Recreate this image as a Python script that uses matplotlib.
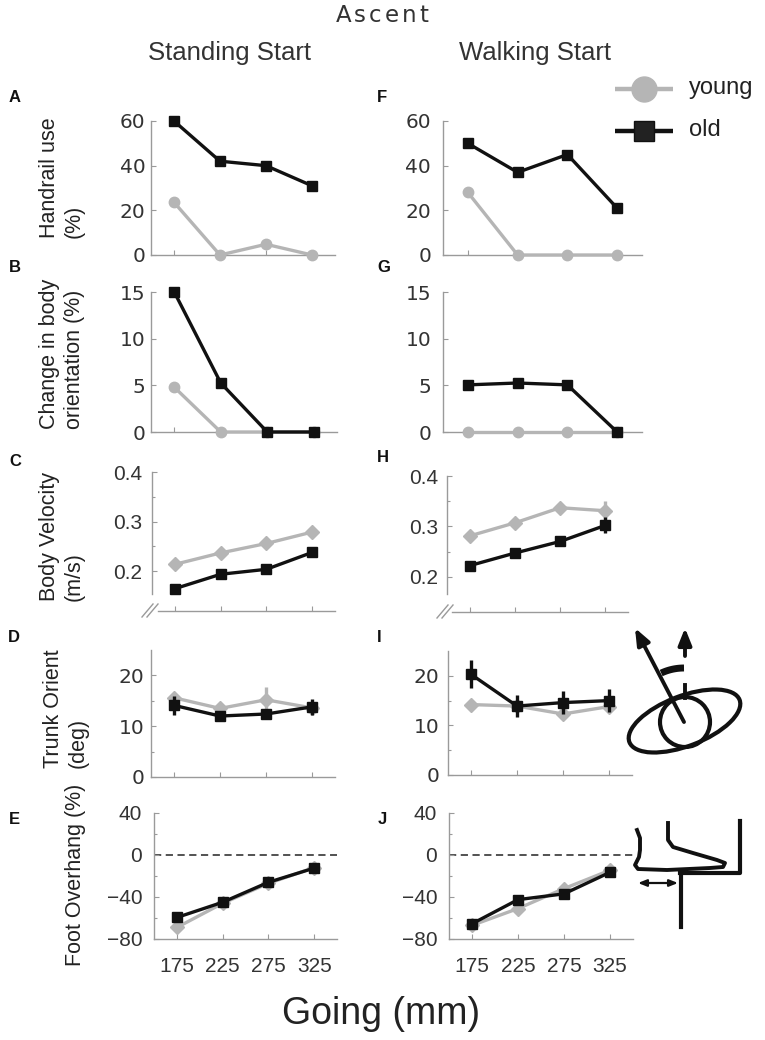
import numpy as np
import matplotlib
matplotlib.use("Agg")
import matplotlib.pyplot as plt
from matplotlib.patches import Ellipse, Circle
from matplotlib.ticker import FixedLocator

# ---- data ----
going = [175, 225, 275, 325]
group_names = ["young", "old"]

handrail_stand_young = [23.6, 0, 4.8, 0]
handrail_stand_old = [60, 42, 40, 31]
handrail_walk_young = [28, 0, 0, 0]
handrail_walk_old = [50, 37, 45, 21]

orient_stand_young = [4.8, 0, 0, 0]
orient_stand_old = [15, 5.25, 0, 0]
orient_walk_young = [0, 0, 0, 0]
orient_walk_old = [5.05, 5.25, 5.05, 0]

vel_stand_young = [0.214, 0.237, 0.256, 0.279]
vel_stand_young_err = [0.004, 0.005, 0.005, 0.006]
vel_stand_old = [0.165, 0.194, 0.204, 0.238]
vel_stand_old_err = [0.004, 0.005, 0.006, 0.006]
vel_walk_young = [0.281, 0.307, 0.337, 0.331]
vel_walk_young_err = [0.006, 0.008, 0.010, 0.020]
vel_walk_old = [0.222, 0.247, 0.270, 0.302]
vel_walk_old_err = [0.005, 0.010, 0.008, 0.016]

trunk_stand_young = [15.6, 13.5, 15.2, 13.6]
trunk_stand_young_err = [1.0, 0.8, 2.6, 0.8]
trunk_stand_old = [14.1, 12.0, 12.4, 13.8]
trunk_stand_old_err = [1.8, 1.0, 1.0, 1.5]
trunk_walk_young = [14.2, 13.9, 12.3, 13.8]
trunk_walk_young_err = [1.0, 1.0, 1.0, 1.0]
trunk_walk_old = [20.3, 13.9, 14.6, 15.0]
trunk_walk_old_err = [2.8, 2.3, 2.3, 2.3]

overhang_stand_young = [-69, -46, -27, -12]
overhang_stand_young_err = [2, 2, 2, 2]
overhang_stand_old = [-59.5, -45, -26, -12.5]
overhang_stand_old_err = [2.5, 2, 2, 3.5]
overhang_walk_young = [-67, -51, -32, -14.5]
overhang_walk_young_err = [2, 3, 3, 3]
overhang_walk_old = [-65.5, -42.5, -37, -16.5]
overhang_walk_old_err = [2.5, 2.5, 3, 3]

GRAY = "#b5b5b5"
BLACK = "#111111"
SPINE = "#9a9a9a"
TXT = "#333333"
W, H = 765, 1040

fig = plt.figure(figsize=(W / 100, H / 100), dpi=100)

# overlay in pixel coordinates for annotations / icons
ov = fig.add_axes([0, 0, 1, 1])
ov.set_xlim(0, W)
ov.set_ylim(H, 0)
ov.axis("off")
ov.patch.set_alpha(0)


def add_panel(left, right, top, bottom, ylim):
    ax = fig.add_axes([left / W, 1 - bottom / H, (right - left) / W, (bottom - top) / H])
    ax.set_xlim(150, 350)
    ax.set_ylim(*ylim)
    ax.patch.set_alpha(0)
    for s in ["top", "right"]:
        ax.spines[s].set_visible(False)
    for s in ["left", "bottom"]:
        ax.spines[s].set_color(SPINE)
        ax.spines[s].set_linewidth(1.0)
    ax.set_xticks(going)
    ax.tick_params(direction="in", length=3.5, width=0.8, color=SPINE,
                   labelcolor=TXT)
    ax.tick_params(which="minor", direction="in", length=2.5, width=0.8, color=SPINE)
    return ax


def draw_pct(ax, young, old):
    ax.plot(going, young, color=GRAY, lw=2.4, marker="o", ms=7.5, clip_on=False, zorder=3)
    ax.plot(going, old, color=BLACK, lw=2.4, marker="s", ms=7, clip_on=False, zorder=4)


def draw_err(ax, young, young_err, old, old_err):
    for vals, err, c, m, ms, z in [(young, young_err, GRAY, "D", 7, 3),
                                   (old, old_err, BLACK, "s", 7, 4)]:
        cont = ax.errorbar(going, vals, yerr=err, color=c, lw=2.4, elinewidth=2.4,
                           capsize=0, marker=m, ms=ms, zorder=z)
        for art in cont.get_children():
            art.set_clip_on(False)


def style_y(ax, ticks, minor, family, size, pad, xlabels=False):
    ax.set_yticks(ticks)
    if minor:
        ax.yaxis.set_minor_locator(FixedLocator(minor))
    ax.tick_params(axis="y", labelsize=size, labelfontfamily=family, pad=pad)
    if xlabels:
        ax.set_xticklabels([str(g) for g in going])
        ax.tick_params(axis="x", labelsize=15, labelfontfamily="Liberation Sans", pad=13)
    else:
        ax.set_xticklabels([])


def axis_break(ax, left, bottom):
    for dx in (0, 5):
        ov.plot([left - 10 + dx, left + 1 + dx], [bottom + 6, bottom - 7],
                color=SPINE, lw=1.0)


# ---- standing start column ----
axA = add_panel(151, 335, 121, 255, (0, 60))
draw_pct(axA, handrail_stand_young, handrail_stand_old)
style_y(axA, [0, 20, 40, 60], None, "DejaVu Sans", 14.5, 4)

axB = add_panel(151, 337, 292, 432, (0, 15))
draw_pct(axB, orient_stand_young, orient_stand_old)
style_y(axB, [0, 5, 10, 15], None, "DejaVu Sans", 14.5, 4)

axC = add_panel(152, 335, 472, 611, (0.12, 0.4))
draw_err(axC, vel_stand_young, vel_stand_young_err, vel_stand_old, vel_stand_old_err)
style_y(axC, [0.2, 0.3, 0.4], [0.25, 0.35], "Liberation Sans", 15, 7)
axC.spines["left"].set_bounds(0.155, 0.4)
axC.spines["bottom"].set_bounds(157, 350)
axis_break(axC, 152, 611)

axD = add_panel(151, 335, 650, 777, (0, 25))
draw_err(axD, trunk_stand_young, trunk_stand_young_err, trunk_stand_old, trunk_stand_old_err)
style_y(axD, [0, 10, 20], [5, 15], "DejaVu Sans", 14.5, 4.5)

axE = add_panel(154, 337, 813, 939, (-80, 40))
axE.axhline(0, color="#444444", lw=1.3, ls=(0, (4, 2.5)), zorder=1)
draw_err(axE, overhang_stand_young, overhang_stand_young_err, overhang_stand_old, overhang_stand_old_err)
style_y(axE, [-80, -40, 0, 40], [-60, -20, 20], "Liberation Sans", 15, 8.5, xlabels=True)

# ---- walking start column ----
axF = add_panel(443, 642, 121, 255, (0, 60))
draw_pct(axF, handrail_walk_young, handrail_walk_old)
style_y(axF, [0, 20, 40, 60], None, "DejaVu Sans", 14.5, 8.5)

axG = add_panel(443, 642, 292, 432, (0, 15))
draw_pct(axG, orient_walk_young, orient_walk_old)
style_y(axG, [0, 5, 10, 15], None, "DejaVu Sans", 14.5, 8.5)

axH = add_panel(447, 628, 476, 612, (0.13, 0.4))
draw_err(axH, vel_walk_young, vel_walk_young_err, vel_walk_old, vel_walk_old_err)
style_y(axH, [0.2, 0.3, 0.4], [0.25, 0.35], "Liberation Sans", 15, 6.5)
axH.spines["left"].set_bounds(0.165, 0.4)
axH.spines["bottom"].set_bounds(156, 350)
axis_break(axH, 447, 612)

axI = add_panel(448, 632, 651, 775, (0, 25))
draw_err(axI, trunk_walk_young, trunk_walk_young_err, trunk_walk_old, trunk_walk_old_err)
style_y(axI, [0, 10, 20], [5, 15], "DejaVu Sans", 14.5, 6)

axJ = add_panel(449, 633, 813, 939, (-80, 40))
axJ.axhline(0, color="#444444", lw=1.3, ls=(0, (4, 2.5)), zorder=1)
draw_err(axJ, overhang_walk_young, overhang_walk_young_err, overhang_walk_old, overhang_walk_old_err)
style_y(axJ, [-80, -40, 0, 40], [-60, -20, 20], "Liberation Sans", 15, 8.5, xlabels=True)

# ---- text ----
lab = dict(fontsize=15.5, family="Liberation Sans", color="#222222", rotation=90,
           ha="center", va="bottom", multialignment="left")
ov.text(62, 238, "Handrail use\n(%)", **lab)
ov.text(62, 429, "Change in body\norientation (%)", **lab)
ov.text(62, 601, "Body Velocity\n(m/s)", **lab)
ov.text(66, 768, "Trunk Orient\n(deg)", **lab)
ov.text(76, 966, "Foot Overhang (%)", **lab)

for letter, x, y in [("A", 15, 97), ("B", 15, 267), ("C", 15, 462), ("D", 14, 637),
                     ("E", 14, 819), ("F", 382, 97), ("G", 384, 267), ("H", 383, 457),
                     ("I", 379, 637), ("J", 382, 819)]:
    ov.text(x, y, letter, fontsize=12, fontweight="bold", family="Liberation Sans",
            ha="center", va="center", color="#111111")

ov.text(230, 53, "Standing Start", fontsize=18.5, family="Liberation Sans",
        color="#333333", ha="center", va="center")
ov.text(535, 53, "Walking Start", fontsize=18.5, family="Liberation Sans",
        color="#333333", ha="center", va="center")
ov.text(381, 1014, "Going (mm)", fontsize=27, family="Liberation Sans",
        color="#222222", ha="center", va="center")

# "Ascent" with wide letter spacing
renderer = fig.canvas.get_renderer()
word = "Ascent"
kw = dict(fontsize=16.5, family="DejaVu Sans", color="#333333", va="center", ha="left")
widths = []
for ch in word:
    t = ov.text(0, 0, ch, **kw)
    widths.append(t.get_window_extent(renderer).width)
    t.remove()
gap = 3.0
x0 = 382 - (sum(widths) + gap * (len(word) - 1)) / 2
for ch, w in zip(word, widths):
    ov.text(x0, 16, ch, **kw)
    x0 += w + gap

# ---- legend ----
ov.plot([615, 673], [89, 89], color=GRAY, lw=3.2, solid_capstyle="butt")
ov.plot([644], [89], color=GRAY, marker="o", ms=18)
ov.plot([615, 673], [131, 131], color=BLACK, lw=3.2, solid_capstyle="butt")
ov.plot([644], [131], color="#222222", marker="s", ms=14.5, mec=BLACK)
ov.text(689, 88, group_names[0], fontsize=17, family="Liberation Sans", color="#222222", va="center")
ov.text(689, 130, group_names[1], fontsize=17, family="Liberation Sans", color="#222222", va="center")

# ---- trunk orientation icon ----
ov.add_patch(Ellipse((684.5, 721), 118, 50, angle=-21, fill=False, lw=3, ec=BLACK))
ov.add_patch(Circle((685, 722), 25, fill=False, lw=3, ec=BLACK))
ov.annotate("", xy=(635, 628), xytext=(684, 722),
            arrowprops=dict(arrowstyle="-|>,head_length=1.0,head_width=0.4",
                            lw=2.8, color=BLACK, shrinkA=0, shrinkB=0))
ov.annotate("", xy=(685, 628), xytext=(685, 656),
            arrowprops=dict(arrowstyle="-|>,head_length=1.0,head_width=0.4",
                            lw=2.8, color=BLACK, shrinkA=0, shrinkB=0))
ov.plot([685, 685], [685, 698], color=BLACK, lw=2.8)
th = np.radians(np.linspace(0, 25, 20))
ov.plot(684 - 54 * np.sin(th), 722 - 54 * np.cos(th), color=BLACK, lw=5,
        solid_capstyle="butt")

# ---- foot overhang icon ----
foot_x = [637, 640, 640, 639, 635, 638, 667, 710, 723, 725, 717, 693, 673, 668, 668]
foot_y = [830, 838, 850, 857, 865, 869, 870, 868, 867, 863, 860, 853, 847, 840, 823]
ov.plot(foot_x, foot_y, color=BLACK, lw=2.8, solid_joinstyle="round")
ov.plot([680, 740, 740], [873, 873, 821], color=BLACK, lw=3)
ov.plot([681, 681], [873, 927], color=BLACK, lw=3)
ov.annotate("", xy=(638, 883), xytext=(678, 883),
            arrowprops=dict(arrowstyle="<|-|>,head_length=0.5,head_width=0.2",
                            lw=1.6, color=BLACK, shrinkA=0, shrinkB=0))

fig.savefig("out.png", dpi=100)
